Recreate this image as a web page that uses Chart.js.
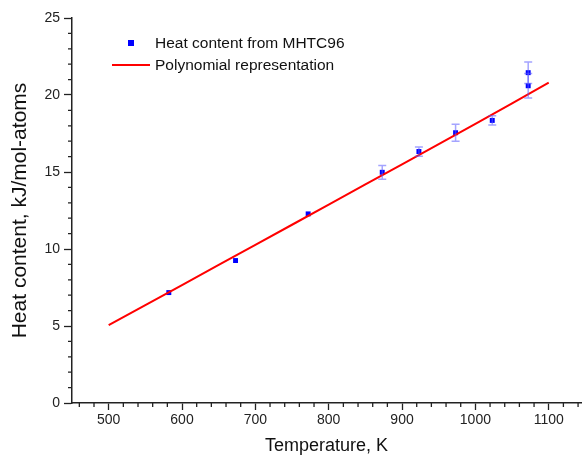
<!DOCTYPE html>
<html lang="en">
<head>
  <meta charset="UTF-8">
  <title>Heat content vs temperature</title>
  <script src="https://cdn.jsdelivr.net/npm/chart.js"></script>
  <style>
    html, body { margin: 0; padding: 0; background: #fff; }
    #wrap { width: 585px; height: 457px; position: relative; }
  </style>
</head>
<body>
  <div id="wrap"><canvas id="heatChart"></canvas></div>

  <script>
    // measured heat content (MHTC96)
    const tempK = [582, 673, 772, 873, 923, 973, 1023, 1072, 1072];
    const heatKJ = [7.17, 9.25, 12.28, 14.98, 16.33, 17.55, 18.35, 21.45, 20.6];
    const heatErr = [0, 0, 0, 0.45, 0.3, 0.55, 0.3, 0.7, 0.8];

    // polynomial fit
    const fitT = [500, 600, 700, 800, 900, 1000, 1100];
    const fitH = [5.05, 7.66, 10.27, 12.88, 15.5, 18.12, 20.8];

    const xTickLabels = [500, 600, 700, 800, 900, 1000, 1100];
    const yTickLabels = [0, 5, 10, 15, 20, 25];

    const legendItems = ["Heat content from MHTC96", "Polynomial representation"];

    const FONT = "Arial, 'Liberation Sans', sans-serif";

    // error bars + minor ticks + legend
    const extras = {
      id: "extras",
      afterDatasetsDraw(chart) {
        const ctx = chart.ctx;
        const xs = chart.scales.x, ys = chart.scales.y;
        ctx.save();

        ctx.strokeStyle = "rgba(90,90,255,0.55)";
        ctx.lineWidth = 1.5;
        tempK.forEach((t, i) => {
          if (!heatErr[i]) return;
          const px = xs.getPixelForValue(t);
          const top = ys.getPixelForValue(heatKJ[i] + heatErr[i]);
          const bot = ys.getPixelForValue(heatKJ[i] - heatErr[i]);
          ctx.beginPath();
          ctx.moveTo(px, top); ctx.lineTo(px, bot);
          ctx.moveTo(px - 4, top); ctx.lineTo(px + 4, top);
          ctx.moveTo(px - 4, bot); ctx.lineTo(px + 4, bot);
          ctx.stroke();
        });

        // minor ticks
        ctx.strokeStyle = "#222";
        ctx.lineWidth = 1.3;
        ctx.beginPath();
        for (let v = 460; v <= 1144; v += 20) {
          if (v % 100 === 0) continue;
          const px = xs.getPixelForValue(v);
          ctx.moveTo(px, xs.top); ctx.lineTo(px, xs.top + 4);
        }
        for (let v = 1; v < 25; v++) {
          if (v % 5 === 0) continue;
          const py = ys.getPixelForValue(v);
          ctx.moveTo(ys.right - 4, py); ctx.lineTo(ys.right, py);
        }
        ctx.stroke();

        // legend
        ctx.font = "15.5px " + FONT;
        ctx.fillStyle = "#111";
        ctx.textBaseline = "middle";
        ctx.fillText(legendItems[0], 155, 44);
        ctx.fillText(legendItems[1], 155, 66);
        ctx.fillStyle = "#0000ff";
        ctx.fillRect(128, 40, 6, 6);
        ctx.strokeStyle = "#ff0000";
        ctx.lineWidth = 2;
        ctx.beginPath();
        ctx.moveTo(112, 65); ctx.lineTo(150, 65);
        ctx.stroke();

        ctx.restore();
      }
    };

    new Chart(document.getElementById("heatChart"), {
      type: "scatter",
      data: {
        datasets: [
          {
            label: legendItems[1],
            type: "line",
            data: fitT.map((t, i) => ({ x: t, y: fitH[i] })),
            borderColor: "#ff0000",
            borderWidth: 2,
            pointRadius: 0,
            fill: false,
            tension: 0.3
          },
          {
            label: legendItems[0],
            data: tempK.map((t, i) => ({ x: t, y: heatKJ[i] })),
            backgroundColor: "#0000ff",
            borderColor: "#0000ff",
            pointStyle: "rect",
            pointRadius: 3.5,
            borderWidth: 0
          }
        ]
      },
      plugins: [extras],
      options: {
        responsive: true,
        maintainAspectRatio: false,
        animation: false,
        layout: { padding: { top: 18, right: 0, left: 0, bottom: 0 } },
        plugins: {
          legend: { display: false },
          tooltip: { enabled: false }
        },
        scales: {
          x: {
            type: "linear",
            min: 450,
            max: 1144,
            afterBuildTicks: s => { s.ticks = xTickLabels.map(v => ({ value: v })); },
            afterFit: s => { s.height = 54; },
            border: { color: "#222", width: 1.5 },
            grid: { drawOnChartArea: false, tickLength: 7, tickColor: "#222", tickWidth: 1.3 },
            ticks: {
              color: "#222", font: { family: FONT, size: 14 }, padding: 2, maxRotation: 0,
              callback: v => String(v)
            },
            title: {
              display: true,
              text: "Temperature, K",
              color: "#111",
              font: { family: FONT, size: 18 },
              padding: { top: 2, bottom: 0 }
            }
          },
          y: {
            min: 0,
            max: 25,
            afterBuildTicks: s => { s.ticks = yTickLabels.map(v => ({ value: v })); },
            afterFit: s => { s.width = 72; },
            border: { color: "#222", width: 1.5 },
            grid: { drawOnChartArea: false, tickLength: 8, tickColor: "#222", tickWidth: 1.3 },
            ticks: {
              color: "#222", font: { family: FONT, size: 14 }, padding: 4,
              callback: v => String(v)
            },
            title: {
              display: true,
              text: "Heat content, kJ/mol-atoms",
              color: "#111",
              font: { family: FONT, size: 21 },
              padding: { top: 8, bottom: 0 }
            }
          }
        }
      }
    });
  </script>
</body>
</html>
